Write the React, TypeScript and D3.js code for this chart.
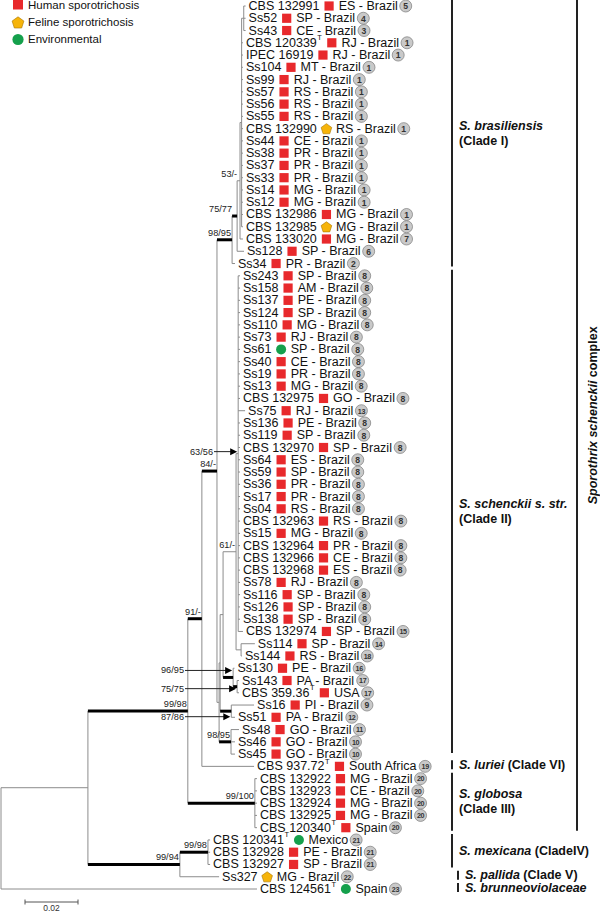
import React, { useMemo } from "react";
import * as d3 from "d3";

// ---------- leaf data (top to bottom) ----------
const strains = [
  "CBS 132991", "Ss52", "Ss43", "CBS 120339", "IPEC 16919", "Ss104", "Ss99", "Ss57", "Ss56", "Ss55",
  "CBS 132990", "Ss44", "Ss38", "Ss37", "Ss33", "Ss14", "Ss12", "CBS 132986", "CBS 132985", "CBS 133020",
  "Ss128", "Ss34", "Ss243", "Ss158", "Ss137", "Ss124", "Ss110", "Ss73", "Ss61", "Ss40",
  "Ss19", "Ss13", "CBS 132975", "Ss75", "Ss136", "Ss119", "CBS 132970", "Ss64", "Ss59", "Ss36",
  "Ss17", "Ss04", "CBS 132963", "Ss15", "CBS 132964", "CBS 132966", "CBS 132968", "Ss78", "Ss116", "Ss126",
  "Ss138", "CBS 132974", "Ss114", "Ss144", "Ss130", "Ss143", "CBS 359.36", "Ss16", "Ss51", "Ss48",
  "Ss46", "Ss45", "CBS 937.72", "CBS 132922", "CBS 132923", "CBS 132924", "CBS 132925", "CBS 120340", "CBS 120341", "CBS 132928",
  "CBS 132927", "Ss327", "CBS 124561",
];
const typeStrains = ["CBS 120339", "CBS 359.36", "CBS 937.72", "CBS 120340", "CBS 120341", "CBS 124561"];
const sources = [
  "H", "H", "H", "H", "H", "H", "H", "H", "H", "H",
  "F", "H", "H", "H", "H", "H", "H", "H", "F", "H",
  "H", "H", "H", "H", "H", "H", "H", "H", "E", "H",
  "H", "H", "H", "H", "H", "H", "H", "H", "H", "H",
  "H", "H", "H", "H", "H", "H", "H", "H", "H", "H",
  "H", "H", "H", "H", "H", "H", "H", "H", "H", "H",
  "H", "H", "H", "H", "H", "H", "H", "H", "E", "H",
  "H", "F", "E",
];
const origins = [
  "ES - Brazil", "SP - Brazil", "CE - Brazil", "RJ - Brazil", "RJ - Brazil", "MT - Brazil", "RJ - Brazil", "RS - Brazil", "RS - Brazil", "RS - Brazil",
  "RS - Brazil", "CE - Brazil", "PR - Brazil", "PR - Brazil", "PR - Brazil", "MG - Brazil", "MG - Brazil", "MG - Brazil", "MG - Brazil", "MG - Brazil",
  "SP - Brazil", "PR - Brazil", "SP - Brazil", "AM - Brazil", "PE - Brazil", "SP - Brazil", "MG - Brazil", "RJ - Brazil", "SP - Brazil", "CE - Brazil",
  "PR - Brazil", "MG - Brazil", "GO - Brazil", "RJ - Brazil", "PE - Brazil", "SP - Brazil", "SP - Brazil", "ES - Brazil", "SP - Brazil", "PR - Brazil",
  "PR - Brazil", "RS - Brazil", "RS - Brazil", "MG - Brazil", "PR - Brazil", "CE - Brazil", "ES - Brazil", "RJ - Brazil", "SP - Brazil", "SP - Brazil",
  "SP - Brazil", "SP - Brazil", "SP - Brazil", "RS - Brazil", "PE - Brazil", "PA - Brazil", "USA", "PI - Brazil", "PA - Brazil", "GO - Brazil",
  "GO - Brazil", "GO - Brazil", "South Africa", "MG - Brazil", "CE - Brazil", "MG - Brazil", "MG - Brazil", "Spain", "Mexico", "PE - Brazil",
  "SP - Brazil", "MG - Brazil", "Spain",
];
const genotypes = [
  5, 4, 3, 1, 1, 1, 1, 1, 1, 1,
  1, 1, 1, 1, 1, 1, 1, 1, 1, 7,
  6, 2, 8, 8, 8, 8, 8, 8, 8, 8,
  8, 8, 8, 13, 8, 8, 8, 8, 8, 8,
  8, 8, 8, 8, 8, 8, 8, 8, 8, 8,
  8, 15, 14, 18, 16, 17, 17, 9, 12, 11,
  10, 10, 19, 20, 20, 20, 20, 20, 21, 21,
  21, 22, 23,
];
// parent node and branch length (substitutions/site) of every leaf
const leafParents = [
  "S", "S", "S", "V", "V", "V", "V", "V", "V", "V",
  "V", "V", "V", "V", "V", "V", "V", "V", "V", "R",
  "Q", "P", "W", "W", "W", "W", "W", "W", "W", "W",
  "W", "W", "W", "W", "W", "W", "W", "W", "W", "W",
  "W", "W", "W", "W", "W", "W", "W", "W", "W", "W",
  "W", "W", "Z", "Z", "N96", "N75", "N75", "H", "H", "J",
  "J", "J", "E", "G", "G", "G", "G", "G", "D", "D",
  "D", "C", "root",
];
const leafLengths = [
  0.0007, 0.0007, 0.0007, 0.0005, 0.0005, 0.0005, 0.0005, 0.0005, 0.0005, 0.0005,
  0.0005, 0.0005, 0.0005, 0.0005, 0.0005, 0.0005, 0.0005, 0.0005, 0.0005, 0.0011,
  0.0026, 0.0011, 0.0007, 0.0007, 0.0007, 0.0007, 0.0007, 0.0007, 0.0007, 0.0007,
  0.0007, 0.0007, 0.0007, 0.0026, 0.0007, 0.0007, 0.0007, 0.0007, 0.0007, 0.0007,
  0.0007, 0.0007, 0.0007, 0.0007, 0.0007, 0.0007, 0.0007, 0.0007, 0.0007, 0.0007,
  0.0007, 0.0018, 0.0052, 0.0003, 0.0005, 0.0007, 0.0007, 0.0086, 0.0014, 0.003,
  0.0015, 0.0015, 0.0197, 0.0008, 0.0008, 0.0008, 0.0008, 0.0008, 0.0008, 0.0008,
  0.0008, 0.0148, 0.0966,
];

// ---------- internal nodes ----------
const nodeIds = ["root", "A", "B", "E", "F", "P", "Q", "R", "V", "S", "I", "K", "X", "Y", "W", "Z", "N96", "N75", "H", "J", "G", "C", "D"];
const nodeParents = [null, "root", "A", "B", "E", "F", "P", "Q", "R", "V", "F", "I", "K", "X", "Y", "Y", "X", "N96", "K", "I", "B", "A", "C"];
const nodeLengths = [0, 0.0328, 0.0377, 0.0053, 0.0057, 0.0057, 0.0019, 0.0011, 0.0006, 0.0008, 0.0008, 0.0004, 0.0011, 0.0049, 0.0008, 0.0019, 0.0038, 0.0015, 0.0042, 0.0045, 0.0253, 0.0347, 0.0106];
const nodeSupport = ["", "", "99/98", "91/-", "84/-", "98/95", "75/77", "53/-", "", "", "", "", "", "61/-", "63/56", "", "96/95", "75/75", "87/86", "98/95", "99/100", "99/94", "99/98"];
const arrowSupportNodes = ["W", "N96", "N75", "H"];

// ---------- clade annotations ----------
const cladeSpecies = ["S. brasiliensis", "S. schenckii s. str.", "S. luriei", "S. globosa", "S. mexicana", "S. pallida", "S. brunneoviolaceae"];
const cladeNames = ["(Clade I)", "(Clade II)", "(Clade VI)", "(Clade III)", "(CladeIV)", "(Clade V)", ""];
const cladeFirst = [0, 22, 62, 63, 68, 71, 72];
const cladeLast = [21, 61, 62, 67, 70, 71, 72];
const cladeTwoLines = [true, true, false, true, false, false, false];
const complexLastLeaf = 67;

const legendLabels = ["Human sporotrichosis", "Feline sporotrichosis", "Environmental"];
const legendKeys = ["H", "F", "E"];
const scaleBarValue = 0.02;

const RED = "#e8292c";
const ORANGE = "#f6b40a";
const GREEN = "#15a04c";
const THIN = "#8c8c8c";

let _ctx: CanvasRenderingContext2D | null = null;
function getCtx() {
  if (!_ctx) _ctx = document.createElement("canvas").getContext("2d");
  return _ctx;
}
function rawWidth(s: string, size: number, family: string, weight = "normal") {
  const ctx = getCtx();
  if (!ctx) return s.length * size * 0.55;
  ctx.font = `normal ${weight} ${size}px ${family}`;
  return ctx.measureText(s).width;
}
function pickFamily() {
  const cands = ["'Liberation Sans'", "Arial", "Roboto", "'Noto Sans'"];
  for (const f of cands) {
    const w = rawWidth("CBS 132991", 100, f);
    if (w > 540 && w < 600) return f;
  }
  return "Roboto";
}

function pentagon(cx: number, cy: number, r: number) {
  const pts: string[] = [];
  for (let k = 0; k < 5; k++) {
    const a = -Math.PI / 2 + (k * 2 * Math.PI) / 5;
    pts.push(`${cx + r * Math.cos(a)},${cy + r * Math.sin(a)}`);
  }
  return pts.join(" ");
}

function SourceMark({ kind, cx, cy }: { kind: string; cx: number; cy: number }) {
  if (kind === "F")
    return <polygon points={pentagon(cx, cy + 0.6, 5.6)} fill={ORANGE} stroke="#a87400" strokeWidth={0.6} />;
  if (kind === "E") return <circle cx={cx} cy={cy} r={5} fill={GREEN} />;
  return <rect x={cx - 4.6} y={cy - 4.6} width={9.2} height={9.2} fill={RED} />;
}

export default function App() {
  const W = 600, Hh = 912;
  const x = d3.scaleLinear().domain([0, 0.1]).range([1, 266]);
  const y = d3.scaleLinear().domain([0, strains.length - 1]).range([6, 889]);
  const FAM = useMemo(() => pickFamily(), []);
  const FONT = `${FAM}, Arial, sans-serif`;
  const tw = (s: string, size: number) => rawWidth(s, size, FAM);

  const tree = useMemo(() => {
    const rows: any[] = [
      ...nodeIds.map((id, i) => ({ id, parent: nodeParents[i], length: nodeLengths[i], support: nodeSupport[i], leaf: -1 })),
      ...strains.map((s, i) => ({ id: "L" + i, parent: leafParents[i], length: leafLengths[i], support: "", leaf: i })),
    ];
    const root: any = d3.stratify<any>().id((d) => d.id).parentId((d) => d.parent)(rows);
    root.eachBefore((n: any) => {
      n.dist = n.parent ? n.parent.dist + n.data.length : 0;
    });
    root.eachAfter((n: any) => {
      if (n.children) {
        const ys = n.children.map((c: any) => c.yy);
        n.yy = ((d3.min(ys) as number) + (d3.max(ys) as number)) / 2;
      } else n.yy = y(n.data.leaf);
    });
    return root;
  }, []);

  const nodes: any[] = tree.descendants();
  const isThick = (s: string) => s !== "" && parseInt(s, 10) >= 70;

  const branches = nodes.filter((n) => n.parent).map((n) => (
    <line key={"h" + n.data.id} x1={x(n.parent.dist)} x2={x(n.dist)} y1={n.yy} y2={n.yy}
      stroke={isThick(n.data.support) ? "#000" : THIN} strokeWidth={isThick(n.data.support) ? 3 : 1} />
  ));
  const verticals = nodes.filter((n) => n.children).map((n) => {
    const ys = n.children.map((c: any) => c.yy);
    return <line key={"v" + n.data.id} x1={x(n.dist)} x2={x(n.dist)} y1={d3.min(ys)} y2={d3.max(ys)} stroke={THIN} strokeWidth={1} />;
  });

  const supports = nodes.filter((n) => n.data.support && n.parent).map((n) => {
    const cx = x(n.dist), px = x(n.parent.dist);
    if (arrowSupportNodes.includes(n.data.id)) {
      const textEnd = n.data.id === "W" ? 213 : 184;
      const ay = n.data.id === "N96" ? n.yy - 7 : n.data.id === "W" ? n.yy - 2 : n.data.id === "H" ? n.yy + 5.5 : n.yy + 2;
      const tip = cx - 1;
      return (
        <g key={"s" + n.data.id}>
          <text x={textEnd} y={ay} textAnchor="end" dominantBaseline="central" fontSize={9.2} fill="#222">{n.data.support}</text>
          <line x1={textEnd + 1} x2={tip - 6} y1={ay} y2={ay} stroke="#222" strokeWidth={1} />
          <polygon points={`${tip},${ay} ${tip - 7},${ay - 3.5} ${tip - 7},${ay + 3.5}`} fill="#000" />
        </g>
      );
    }
    const endX = cx - px > 10 ? cx - 1 : px;
    return (
      <text key={"s" + n.data.id} x={endX} y={n.yy - 4} textAnchor="end" fontSize={9.2} fill="#222">{n.data.support}</text>
    );
  });

  const leafNodes = nodes.filter((n) => !n.children);
  const labels = leafNodes.map((n) => {
    const i = n.data.leaf;
    const name = strains[i];
    const isType = typeStrains.includes(name);
    const x0 = x(n.dist) + 3;
    const nw = tw(name, 12.5);
    const nameW = nw + (isType ? tw("T", 7.5) + 0.8 : 0);
    const sx = x0 + nameW + 5 + 4.6;
    const ox = sx + 4.6 + 5;
    const ow = tw(origins[i], 12.5);
    const gx = ox + ow + 8;
    const g = genotypes[i];
    return (
      <g key={"lab" + i}>
        <text x={x0} y={n.yy} dominantBaseline="central" fontSize={12.5} fill="#111">{name}</text>
        {isType && (
          <text x={x0 + nw + 0.5} y={n.yy - 5} dominantBaseline="central" fontSize={7.5} fill="#111">T</text>
        )}
        <SourceMark kind={sources[i]} cx={sx} cy={n.yy} />
        <text x={ox} y={n.yy} dominantBaseline="central" fontSize={12.5} fill="#111">{origins[i]}</text>
        <circle cx={gx} cy={n.yy} r={6} fill="#c9c9c9" stroke="#7a7a7a" strokeWidth={0.7} />
        <text x={gx} y={n.yy + 0.3} textAnchor="middle" dominantBaseline="central" fontWeight="bold"
          fontSize={g >= 10 ? 7.2 : 8.6} fill="#333" letterSpacing={g >= 10 ? -0.4 : 0}>{g}</text>
      </g>
    );
  });

  const clades = cladeSpecies.map((sp, k) => {
    const y0 = y(cladeFirst[k]) - 6;
    const y1 = y(cladeLast[k]) + (k === 1 ? -1 : 3);
    const bx = k >= 5 ? 458 : 452;
    const tx = bx + 7;
    const mid = (y0 + y1) / 2;
    return (
      <g key={"c" + k}>
        <line x1={bx} x2={bx} y1={y0} y2={y1} stroke="#222" strokeWidth={2} />
        {cladeTwoLines[k] ? (
          <>
            <text x={tx} y={mid - 7.3} dominantBaseline="central" fontSize={12.5} fontWeight="bold" fontStyle="italic" fill="#111">{sp}</text>
            <text x={tx} y={mid + 7.3} dominantBaseline="central" fontSize={12.5} fontWeight="bold" fill="#111">{cladeNames[k]}</text>
          </>
        ) : (
          <text x={tx} y={mid} dominantBaseline="central" fontSize={12.5} fontWeight="bold" fill="#111">
            <tspan fontStyle="italic">{sp}</tspan>
            {cladeNames[k] ? " " + cladeNames[k] : ""}
          </text>
        )}
      </g>
    );
  });

  const cy0 = y(cladeFirst[0]) - 6;
  const cy1 = y(complexLastLeaf) + 3;
  const sb0 = 25;
  const sb1 = sb0 + (x(scaleBarValue) - x(0));

  return (
    <svg width={W} height={Hh} viewBox={`0 0 ${W} ${Hh}`}
      style={{ position: "absolute", left: 0, top: 0, display: "block", background: "#fff" }}
      fontFamily={FONT}>
      {/* legend */}
      {legendLabels.map((lab, k) => (
        <g key={"lg" + k}>
          {legendKeys[k] === "H" && <rect x={13} y={0} width={10} height={9.5} fill={RED} />}
          {legendKeys[k] === "F" && <polygon points={pentagon(18, 23, 6.2)} fill={ORANGE} stroke="#a87400" strokeWidth={0.6} />}
          {legendKeys[k] === "E" && <circle cx={18} cy={39.5} r={5.6} fill={GREEN} />}
          <text x={28} y={5 + k * 17} dominantBaseline="central" fontSize={11.5} fill="#111">{lab}</text>
        </g>
      ))}
      {verticals}
      {branches}
      {supports}
      {labels}
      {clades}
      <line x1={577} x2={577} y1={cy0} y2={cy1} stroke="#222" strokeWidth={2} />
      <text transform={`translate(593,${(cy0 + cy1) / 2}) rotate(-90)`} textAnchor="middle" dominantBaseline="central"
        fontSize={12.5} fontWeight="bold" fill="#111">
        <tspan fontStyle="italic">Sporothrix schenckii</tspan> complex
      </text>
      {/* scale bar */}
      <line x1={sb0} x2={sb1} y1={902} y2={902} stroke="#555" strokeWidth={1} />
      <line x1={sb0} x2={sb0} y1={899.5} y2={904.5} stroke="#555" strokeWidth={1} />
      <line x1={sb1} x2={sb1} y1={899.5} y2={904.5} stroke="#555" strokeWidth={1} />
      <text x={(sb0 + sb1) / 2} y={911} textAnchor="middle" fontSize={8.5} fill="#333">{scaleBarValue}</text>
    </svg>
  );
}
